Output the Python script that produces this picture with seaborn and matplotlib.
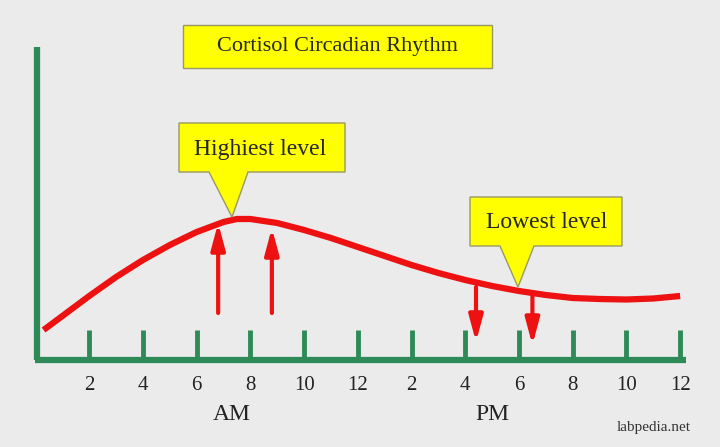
import matplotlib
matplotlib.use("Agg")
import matplotlib.pyplot as plt
import seaborn as sns
import pandas as pd
from matplotlib.patches import Polygon

sns.set_theme(style="white")
plt.rcParams['font.family'] = ['Liberation Serif', 'DejaVu Serif']

hours = [0.3, 1, 2, 3, 4, 5, 6, 7, 7.5, 8, 9, 10, 11, 12, 13, 14, 15, 16, 17, 18, 19, 20, 21, 22, 23, 24]
level = [30, 44, 64, 83, 100, 115, 128, 138, 141, 141, 137, 130, 122, 113, 104, 95, 87, 80, 74, 69, 65, 62, 61, 60.5, 61.5, 64]
tick_hours = [2, 4, 6, 8, 10, 12, 14, 16, 18, 20, 22, 24]
tick_labels = ["2", "4", "6", "8", "10", "12", "2", "4", "6", "8", "10", "12"]
up_arrows = [(6.8, 47, 137), (8.8, 47, 132)]
down_arrows = [(16.4, 73, 18), (18.5, 67, 15)]

bg = "#ebebeb"
green = "#2e8b57"
red = "#ee1111"

fig = plt.figure(figsize=(7.2, 4.47), dpi=100, facecolor=bg)
ax = fig.add_axes([0, 0, 1, 1])
ax.set_facecolor(bg)
ax.set_xlim(-35.5 / 26.86, 684.5 / 26.86)
ax.set_ylim(-87, 360)
ax.axis("off")

ax.plot([0.05, 0.05], [0, 313], color=green, lw=4.5, solid_capstyle="butt")
ax.plot([0, 24.2], [0, 0], color=green, lw=4.5, solid_capstyle="butt")
for h, lab in zip(tick_hours, tick_labels):
    ax.plot([h, h], [0, 30], color=green, lw=3.5, solid_capstyle="butt")
    ax.text(h, -25, lab, ha="center", va="center", fontsize=15, color="#222")
ax.text(7.3, -55, "AM", ha="center", va="center", fontsize=17, color="#222")
ax.text(17.0, -55, "PM", ha="center", va="center", fontsize=17, color="#222")

df = pd.DataFrame({"hour": hours, "level": level})
sns.lineplot(data=df, x="hour", y="level", ax=ax, color=red, lw=4.5,
             solid_joinstyle="round", solid_capstyle="butt")
ax.set_xlabel(""); ax.set_ylabel("")

for x, y0, y1 in up_arrows + down_arrows:
    ax.annotate("", xy=(x, y1), xytext=(x, y0),
                arrowprops=dict(arrowstyle="-|>,head_width=0.35,head_length=1.3",
                                color=red, lw=3, shrinkA=0, shrinkB=0))

ov = fig.add_axes([0, 0, 1, 1])
ov.set_xlim(0, 720); ov.set_ylim(447, 0); ov.axis("off")
yellow = "#ffff00"
edge = "#999966"
ov.add_patch(Polygon([(183, 25), (492, 25), (492, 68), (183, 68)], closed=True,
                     facecolor=yellow, edgecolor=edge, lw=1, zorder=5))
ov.text(337, 47, "Cortisol Circadian Rhythm", ha="center", va="center", fontsize=16, zorder=6)
ov.add_patch(Polygon([(179, 123), (345, 123), (345, 172), (248, 172), (232, 217), (209, 172), (179, 172)],
                     closed=True, facecolor=yellow, edgecolor=edge, lw=1, zorder=5))
ov.text(260, 150, "Highiest level", ha="center", va="center", fontsize=17, zorder=6)
ov.add_patch(Polygon([(470, 197), (622, 197), (622, 246), (534, 246), (518, 287), (500, 246), (470, 246)],
                     closed=True, facecolor=yellow, edgecolor=edge, lw=1, zorder=5))
ov.text(547, 222, "Lowest level", ha="center", va="center", fontsize=17, zorder=6)
ov.text(654, 427, "labpedia.net", ha="center", va="center", fontsize=11, color="#333")

fig.savefig("out.png", dpi=100, facecolor=bg)
